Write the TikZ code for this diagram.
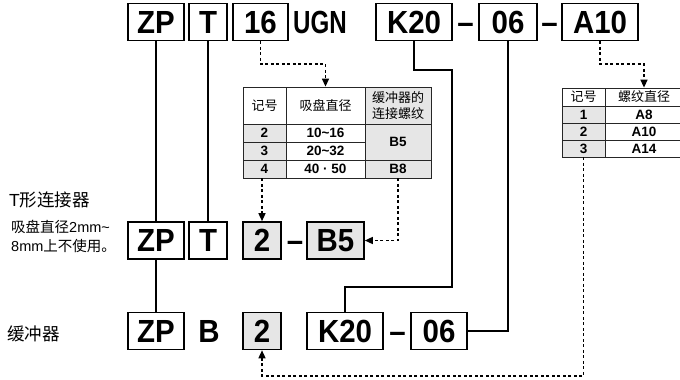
\documentclass[tikz,border=0pt]{standalone}
\usepackage{fontspec}
\setmainfont{Liberation Sans}
\newfontfamily\cjk{Noto Sans CJK SC}
\newfontfamily\codefam[FakeStretch=0.92]{Liberation Sans}
\usetikzlibrary{arrows.meta}
\definecolor{boxgray}{HTML}{E6E6E6}
\newcommand\cdfont{\codefam\fontsize{32}{32}\selectfont\bfseries}
\newcommand\tbfont{\fontsize{13.5}{15}\selectfont\bfseries}
\newcommand\thfont{\cjk\fontsize{13}{15.5}\selectfont}
\begin{document}
\begin{tikzpicture}[x=1pt,y=-1pt,
  codebox/.style={draw, line width=1.6pt, inner sep=0pt, minimum height=37pt, font=\cdfont, text height=22.9pt, text depth=0pt},
  graybox/.style={codebox, fill=boxgray},
  codetext/.style={inner sep=0pt, font=\cdfont, text height=22.9pt, text depth=0pt},
  conn/.style={line width=1.3pt},
  dconn/.style={line width=1.4pt, dash pattern=on 3pt off 2.5pt},
  tip/.style={-{Triangle[length=8pt,width=7pt]}},
  cell/.style={draw=black!85, line width=0.8pt, inner sep=0pt, align=center},
  hcell/.style={cell, font=\thfont},
  dcell/.style={cell, font=\tbfont},
  gcell/.style={dcell, fill=boxgray},
]
\useasboundingbox (0,0) rectangle (680,380);
% top row
\node[codebox, minimum width=56pt] (tZP) at (156,22) {ZP};
\node[codebox, minimum width=38pt] (tT) at (208,22) {T};
\node[codebox, minimum width=55pt] (t16) at (260.5,22) {16};
\node[codetext] (tUGN) at (320,22) {\scalebox{0.82}[1]{UGN}};
\node[codebox, minimum width=76pt] (tK20) at (414,22) {K20};
\node[codetext] (td1) at (465.5,22) {–};
\node[codebox, minimum width=58pt] (t06) at (508,22) {06};
\node[codetext] (td2) at (549.5,22) {–};
\node[codebox, minimum width=76pt] (tA10) at (600,22) {A10};
% middle row
\node[codebox, minimum width=56pt] (mZP) at (156,240.5) {ZP};
\node[codebox, minimum width=38pt] (mT) at (208,240.5) {T};
\node[graybox, minimum width=38pt] (m2) at (262,240.5) {2};
\node[codetext] (md) at (295,240.5) {–};
\node[graybox, minimum width=57pt] (mB5) at (335.5,240.5) {B5};
% bottom row
\node[codebox, minimum width=56pt] (bZP) at (156,331) {ZP};
\node[codetext] (bB) at (209,331) {B};
\node[graybox, minimum width=38pt] (b2) at (262,331) {2};
\node[codebox, minimum width=76pt] (bK20) at (345,331) {K20};
\node[codetext] (bd) at (397.5,331) {–};
\node[codebox, minimum width=56pt] (b06) at (439,331) {06};
% table 1
\node[hcell, minimum width=43pt, minimum height=37pt] (h1a) at (264.5,105.5) {记号};
\node[hcell, minimum width=79pt, minimum height=37pt] (h1b) at (325.5,105.5) {吸盘直径};
\node[hcell, fill=boxgray, minimum width=66pt, minimum height=37pt] (h1c) at (398,105.5) {缓冲器的\\连接螺纹};
\node[gcell, minimum width=43pt, minimum height=18pt] (a1) at (264.5,133) {2};
\node[dcell, minimum width=79pt, minimum height=18pt] (b1) at (325.5,133) {10\textasciitilde16};
\node[gcell, minimum width=43pt, minimum height=18pt] (a2) at (264.5,151) {3};
\node[dcell, minimum width=79pt, minimum height=18pt] (bb2) at (325.5,151) {20\textasciitilde32};
\node[gcell, minimum width=66pt, minimum height=36pt] (c12) at (398,142) {B5};
\node[gcell, minimum width=43pt, minimum height=18pt] (a3) at (264.5,169) {4};
\node[dcell, minimum width=79pt, minimum height=18pt] (b3) at (325.5,169) {40 · 50};
\node[gcell, minimum width=66pt, minimum height=18pt] (c3) at (398,169) {B8};
% table 2
\node[hcell, minimum width=43pt, minimum height=18pt] (h2a) at (583.5,97) {记号};
\node[hcell, minimum width=78pt, minimum height=18pt] (h2b) at (644,97) {螺纹直径};
\node[gcell, minimum width=43pt, minimum height=17pt] (e1) at (583.5,114.5) {1};
\node[dcell, minimum width=78pt, minimum height=17pt] (f1) at (644,114.5) {A8};
\node[gcell, minimum width=43pt, minimum height=17pt] (e2) at (583.5,131.5) {2};
\node[dcell, minimum width=78pt, minimum height=17pt] (f2) at (644,131.5) {A10};
\node[gcell, minimum width=43pt, minimum height=17pt] (e3) at (583.5,148.5) {3};
\node[dcell, minimum width=78pt, minimum height=17pt] (f3) at (644,148.5) {A14};
% left labels
\node[anchor=west, inner sep=0pt, font=\fontsize{17.5}{17.5}\selectfont] (lT) at (9,200) {T{\cjk 形连接器}};
\node[anchor=west, inner sep=0pt, align=left, font=\fontsize{14.5}{19.5}\selectfont] (lT2) at (11,236.5) {{\cjk 吸盘直径}2mm\textasciitilde\\8mm{\cjk 上不使用。}};
\node[anchor=west, inner sep=0pt, font=\cjk\fontsize{17.5}{17.5}\selectfont] (lB) at (7,334) {缓冲器};
% connectors
\coordinate (lvl16) at (0,64);
\coordinate (lvlB) at (0,376);
\coordinate (kA) at (452,70);
\coordinate (kB) at (452,287);
\draw[conn] (tZP.south) -- (mZP.north);
\draw[conn] (mZP.south) -- (bZP.north);
\draw[conn] (tT.south) -- (mT.north);
\draw[conn] (tK20.south) |- (kA) -- (kB) -| (bK20.north);
\draw[conn] (t06.south) |- (b06.east);
\draw[dconn,tip] (t16.south) -- (t16.south |- lvl16) -| (h1b.north);
\draw[dconn,tip] (tA10.south) -- (tA10.south |- lvl16) -| (h2b.north);
\draw[dconn,tip] (m2.north |- a3.south) -- (m2.north);
\draw[dconn,tip] (c3.south) |- (mB5.east);
\draw[dconn,tip] (e3.south) -- (e3.south |- lvlB) -| (b2.south);
\end{tikzpicture}
\end{document}
